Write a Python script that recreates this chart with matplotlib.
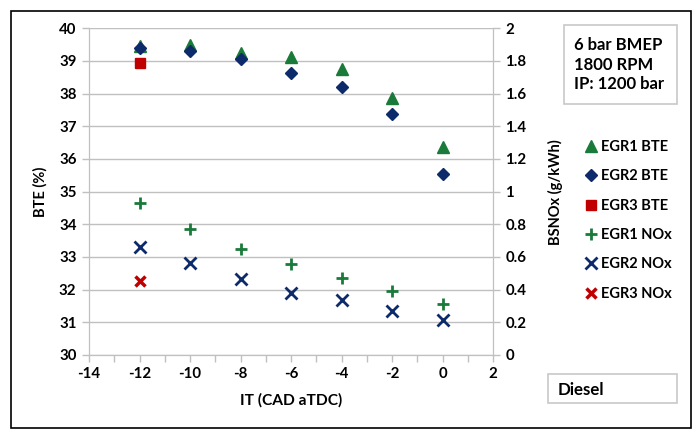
import matplotlib
matplotlib.use("Agg")
import matplotlib.pyplot as plt
from matplotlib.patches import Rectangle

# Injection timing (CAD aTDC)
it_egr12 = [-12, -10, -8, -6, -4, -2, 0]
it_egr3 = [-12]

# Brake thermal efficiency (%)
bte_egr1 = [39.47, 39.50, 39.24, 39.13, 38.76, 37.88, 36.38]
bte_egr2 = [39.41, 39.32, 39.07, 38.63, 38.21, 37.38, 35.55]
bte_egr3 = [38.94]

# Brake specific NOx (g/kWh)
nox_egr1 = [0.93, 0.77, 0.65, 0.56, 0.47, 0.39, 0.31]
nox_egr2 = [0.66, 0.565, 0.467, 0.38, 0.337, 0.271, 0.214]
nox_egr3 = [0.45]

green = "#1a7a3a"
navy = "#0d2a6b"
red = "#c00000"
grid_c = "#c0c0c0"

plt.rcParams["font.family"] = ["Lato", "DejaVu Sans"]
plt.rcParams["font.weight"] = "bold"
plt.rcParams["font.size"] = 10.5
plt.rcParams["axes.unicode_minus"] = False

W, H = 693, 429
fig = plt.figure(figsize=(W / 100, H / 100), dpi=100)
ax = fig.add_axes([89 / W, 1 - 355 / H, (493 - 89) / W, (355 - 28.3) / H])
ax2 = ax.twinx()

h1, = ax.plot(it_egr12, bte_egr1, "^", color=green, ms=8.5, ls="none", label="EGR1 BTE")
h2, = ax.plot(it_egr12, bte_egr2, "D", color=navy, ms=6.5, ls="none", label="EGR2 BTE")
h3, = ax.plot(it_egr3, bte_egr3, "s", color=red, ms=7.5, ls="none", label="EGR3 BTE")
h4, = ax2.plot(it_egr12, nox_egr1, "+", color=green, ms=8, mew=2, ls="none", label="EGR1 NOx")
h5, = ax2.plot(it_egr12, nox_egr2, "x", color=navy, ms=8, mew=2, ls="none", label="EGR2 NOx")
h6, = ax2.plot(it_egr3, nox_egr3, "x", color=red, ms=7, mew=2.5, ls="none", label="EGR3 NOx")

ax.set_xlim(-14, 2)
ax.set_ylim(30, 40)
ax2.set_ylim(0, 2)
ax.set_xticks(range(-14, 3, 2))
ax.set_xticks(range(-14, 3, 1), minor=True)
ax.set_yticks(range(30, 41))
ax2.set_yticks([0, 0.2, 0.4, 0.6, 0.8, 1, 1.2, 1.4, 1.6, 1.8, 2])
ax2.set_yticklabels(["0", "0.2", "0.4", "0.6", "0.8", "1", "1.2", "1.4", "1.6", "1.8", "2"])

ax.yaxis.grid(True, color=grid_c, lw=1)
ax.set_axisbelow(True)
for a in (ax, ax2):
    for s in a.spines.values():
        s.set_color(grid_c)
    a.spines["top"].set_visible(False)
    a.tick_params(which="both", color=grid_c, length=5, direction="out", width=1)
    a.tick_params(labelsize=10.8, pad=4)

ax.set_xlabel("IT (CAD aTDC)", fontsize=11.2, fontweight="bold", labelpad=8)
ax.set_ylabel("BTE (%)", fontsize=10.5, fontweight="bold", labelpad=8)
ax2.set_ylabel("BSNOx (g/kWh)", fontsize=10.5, fontweight="bold", labelpad=15)

fig.legend(handles=[h1, h2, h3, h4, h5, h6], loc="upper left",
           bbox_to_anchor=(572 / W, 1 - 127 / H), frameon=False,
           handlelength=0.8, handletextpad=0.3, labelspacing=1.05,
           prop={"weight": "bold", "size": 10.5})

# operating conditions box
fig.patches.append(Rectangle((564 / W, 1 - 104 / H), 113 / W, 79 / H,
                             transform=fig.transFigure, fill=False,
                             ec="#c8c8c8", lw=1.2))
fig.text(574 / W, 1 - 64.5 / H, "6 bar BMEP\n1800 RPM\nIP: 1200 bar",
         va="center", ha="left", fontsize=12, fontweight="bold",
         linespacing=1.3)

# fuel label box
fig.patches.append(Rectangle((548 / W, 1 - 403 / H), 129 / W, 29 / H,
                             transform=fig.transFigure, fill=False,
                             ec="#c8c8c8", lw=1.2))
fig.text(558 / W, 1 - 390 / H, "Diesel", va="center", ha="left",
         fontsize=12.2, fontweight="bold")

# outer chart border
fig.patches.append(Rectangle((10.5 / W, 1 - 427.5 / H), 680 / W, 417 / H,
                             transform=fig.transFigure, fill=False,
                             ec="black", lw=1.2))

fig.savefig("out.png", dpi=100)
